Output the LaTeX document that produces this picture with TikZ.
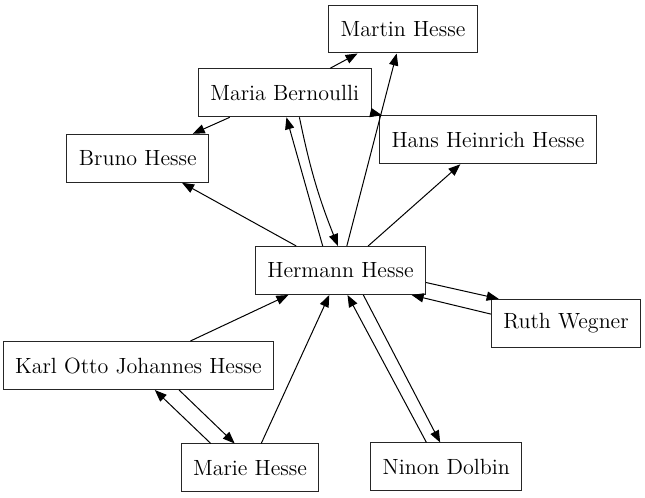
\documentclass[tikz,border=0pt]{standalone}
\usetikzlibrary{arrows.meta}
\tikzset{person/.style={draw=black!85, rectangle, line width=0.5pt,
        inner xsep=6pt, inner ysep=0pt, minimum height=24pt,
        font=\fontsize{11}{13}\selectfont}}
\tikzset{rel/.style={line width=0.5pt, -{Triangle[length=6pt,width=4.6pt]}}}
\begin{document}
\begin{tikzpicture}[x=0.5pt,y=-0.5pt]
\useasboundingbox (0,0) rectangle (645,498);
% Persons
\node[person] (martin) at (403,29) {Martin Hesse};
\node[person] (maria) at (284.7,92.8) {Maria Bernoulli};
\node[person] (hans) at (488,139.8) {Hans Heinrich Hesse};
\node[person] (bruno) at (137.8,158.3) {Bruno Hesse};
\node[person] (hermann) at (340.5,270.5) {Hermann Hesse};
\node[person] (ruth) at (566,323.3) {Ruth Wegner};
\node[person] (karl) at (138.3,365.5) {Karl Otto Johannes Hesse};
\node[person] (marie) at (250,468) {Marie Hesse};
\node[person] (ninon) at (446.3,467) {Ninon Dolbin};
% Maria
\draw[rel] (maria) -- (martin);
\draw[rel] (maria) -- (bruno);
\draw[rel] (maria) -- (hans);
% Hermann
\draw[rel] (hermann) -- (martin);
\draw[rel] (hermann) -- (hans);
\draw[rel] (hermann) -- (bruno);
\draw[rel] (hermann.126.7) -- (maria.-86.8);
\draw[rel] (maria.-59.4) to[bend right=5] (hermann.96);
\draw[rel] (hermann.-8.1) -- (ruth.160);
\draw[rel] (ruth.173.5) -- (hermann.-19.5);
\draw[rel] (hermann.-47.5) -- (ninon.104.5);
\draw[rel] (ninon.129.9) -- (hermann.-74.5);
% Children
\draw[rel] (karl) -- (hermann);
\draw[rel] (marie) -- (hermann);
\draw[rel] (karl.-31.8) -- (marie.122);
\draw[rel] (marie.148.4) -- (karl.-56.8);
\end{tikzpicture}
\end{document}
